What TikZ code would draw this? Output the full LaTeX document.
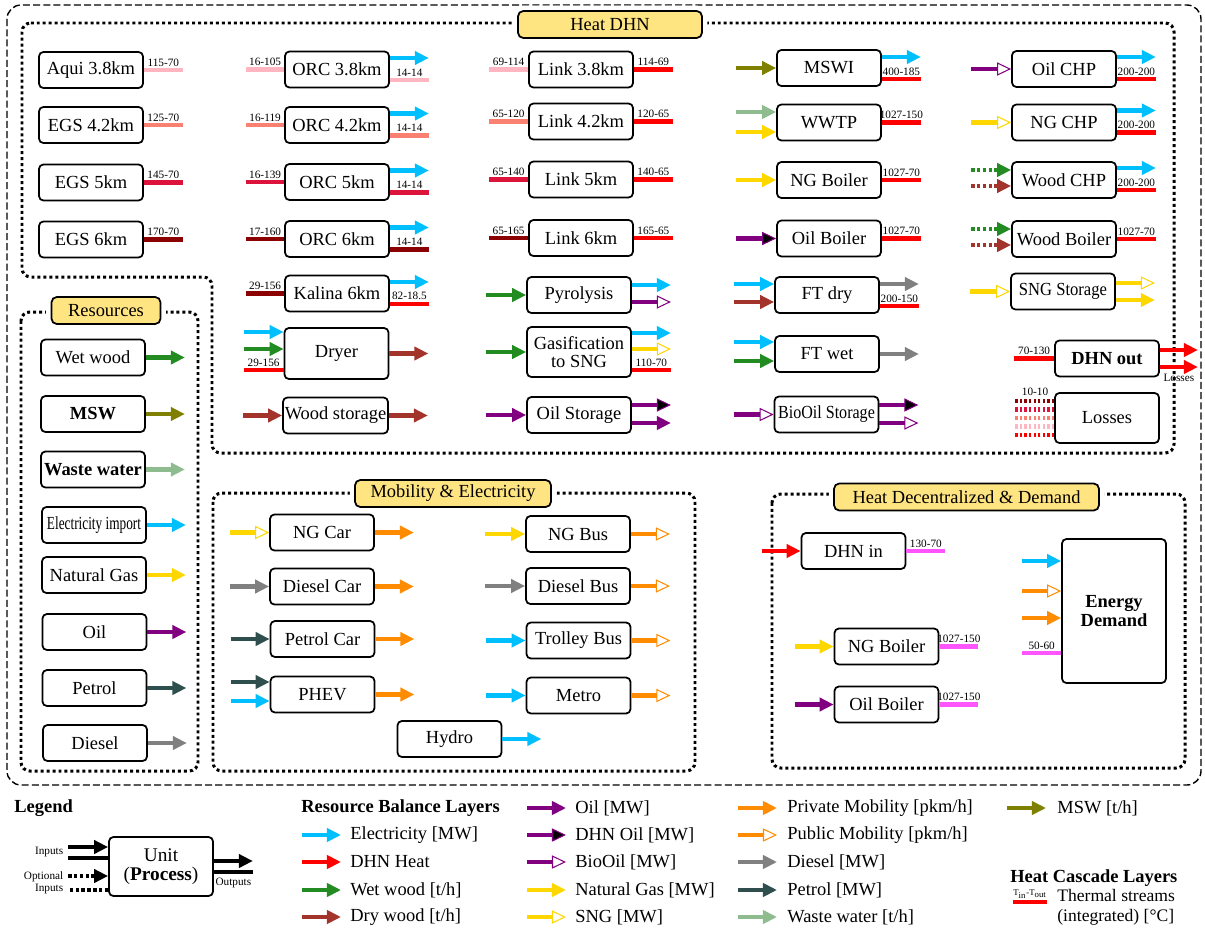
\documentclass[tikz,border=0pt]{standalone}
\usepackage{fontspec}
\setmainfont{Liberation Serif}
\usepackage{graphicx}
\usetikzlibrary{arrows.meta}

\definecolor{elec}{RGB}{0,191,255}
\definecolor{wetwood}{RGB}{34,139,34}
\definecolor{drywood}{RGB}{163,52,44}
\definecolor{oil}{RGB}{128,0,128}
\definecolor{natgas}{RGB}{255,215,0}
\definecolor{mobil}{RGB}{255,140,0}
\definecolor{diesel}{RGB}{128,128,128}
\definecolor{petrol}{RGB}{47,79,79}
\definecolor{wastew}{RGB}{143,188,143}
\definecolor{msw}{RGB}{128,128,0}
\definecolor{geoA}{RGB}{255,182,193}
\definecolor{geoB}{RGB}{250,128,114}
\definecolor{geoC}{RGB}{220,20,60}
\definecolor{geoD}{RGB}{139,0,0}
\definecolor{decheat}{RGB}{255,85,255}
\definecolor{titlefill}{RGB}{255,228,130}

\begin{document}
\begin{tikzpicture}[x=0.02cm, y=-0.02cm,
	unit/.style={draw, fill=white, rounded corners=2.5pt, line width=1pt, minimum width=2.08cm, minimum height=0.72cm, inner sep=1pt, align=center, font=\fontsize{10.5}{10}\selectfont},
	unitbf/.style={unit, font=\fontsize{10.5}{10.5}\selectfont\bfseries},
	titlebox/.style={draw, fill=titlefill, rounded corners=3pt, line width=1pt, minimum height=0.54cm, inner sep=1pt, font=\fontsize{10.5}{11}\selectfont, preaction={draw=white, line width=6pt}},
	region/.style={line width=1.7pt, dash pattern=on 1.7pt off 1.7pt, rounded corners=5pt},
	resflow/.style={draw=#1, line width=2.8pt, -{Triangle[length=8pt,width=7.5pt]}},
	resopen/.style={draw=#1, line width=2.8pt, -{Triangle[open,length=8pt,width=7.5pt,line width=0.6pt]}},
	resdhn/.style={draw=oil, line width=2.8pt, -{Triangle[fill=black,length=8pt,width=7.5pt,line width=0.6pt]}},
	resopt/.style={resflow=#1, dash pattern=on 2pt off 1.3pt},
	hstream/.style={draw=#1, line width=2.8pt},
	hstreamopt/.style={draw=#1, line width=2.8pt, dash pattern=on 1.3pt off 1.3pt},
	tlab/.style={above, inner sep=0.8pt, font=\fontsize{6.4}{7}\selectfont},
	smalltext/.style={inner sep=0.8pt, font=\fontsize{6.4}{7}\selectfont},
	legtext/.style={anchor=west, inner sep=0pt, font=\fontsize{10.5}{11.5}\selectfont},
	legheader/.style={anchor=west, inner sep=0pt, font=\fontsize{10.5}{12}\selectfont\bfseries}]
	\useasboundingbox (0,0) rectangle (1205,934);
	\draw [line width=0.8pt, dash pattern=on 4pt off 1.8pt, rounded corners=8pt] (7,5) rectangle (1201,785);

	% Heat DHN
	\draw [region] (22,23) -- (1174,23) -- (1174,453) -- (212,453) -- (212,277) -- (22,277) -- cycle;
	\node [titlebox, minimum width=3.68cm] (tdhn) at (610,24.5) {Heat DHN};

	\node [unit] (aqui) at (91,70) {Aqui 3.8km};
	\node [unit] (egsA) at (91,125) {EGS 4.2km};
	\node [unit] (egsB) at (91,182.5) {EGS 5km};
	\node [unit] (egsC) at (91,239.5) {EGS 6km};
	\draw [hstream=geoA] (aqui.east) -- ++(39,0) node [tlab, midway] {115-70};
	\draw [hstream=geoB] (egsA.east) -- ++(39,0) node [tlab, midway] {125-70};
	\draw [hstream=geoC] (egsB.east) -- ++(39,0) node [tlab, midway] {145-70};
	\draw [hstream=geoD] (egsC.east) -- ++(39,0) node [tlab, midway] {170-70};

	\node [unit] (orcA) at (337,69.5) {ORC 3.8km};
	\node [unit] (orcB) at (337,125) {ORC 4.2km};
	\node [unit] (orcC) at (337,182) {ORC 5km};
	\node [unit] (orcD) at (337,239) {ORC 6km};
	\node [unit] (kalina) at (337,293.5) {Kalina 6km};
	\draw [hstream=geoA] (orcA.west) -- ++(-38,0) node [tlab, midway] {16-105};
	\draw [resflow=elec] ([shift={(0,-11.5)}]orcA.east) -- ++(39,0);
	\draw [hstream=geoA] ([shift={(0,10.5)}]orcA.east) -- ++(39,0) node [tlab, midway] {14-14};
	\draw [hstream=geoB] (orcB.west) -- ++(-38,0) node [tlab, midway] {16-119};
	\draw [resflow=elec] ([shift={(0,-11.5)}]orcB.east) -- ++(39,0);
	\draw [hstream=geoB] ([shift={(0,10.5)}]orcB.east) -- ++(39,0) node [tlab, midway] {14-14};
	\draw [hstream=geoC] (orcC.west) -- ++(-38,0) node [tlab, midway] {16-139};
	\draw [resflow=elec] ([shift={(0,-11.5)}]orcC.east) -- ++(39,0);
	\draw [hstream=geoC] ([shift={(0,10.5)}]orcC.east) -- ++(39,0) node [tlab, midway] {14-14};
	\draw [hstream=geoD] (orcD.west) -- ++(-38,0) node [tlab, midway] {17-160};
	\draw [resflow=elec] ([shift={(0,-11.5)}]orcD.east) -- ++(39,0);
	\draw [hstream=geoD] ([shift={(0,10.5)}]orcD.east) -- ++(39,0) node [tlab, midway] {14-14};
	\draw [hstream=geoD] (kalina.west) -- ++(-38,0) node [tlab, midway] {29-156};
	\draw [resflow=elec] ([shift={(0,-11.5)}]kalina.east) -- ++(39,0);
	\draw [hstream=red] ([shift={(0,10.5)}]kalina.east) -- ++(39,0) node [tlab, midway] {82-18.5};

	\node [unit, minimum height=1.02cm] (dryer) at (336.5,353.5) {Dryer};
	\draw [resflow=elec] ([shift={(-40,-21.5)}]dryer.west) -- ++(40,0);
	\draw [resflow=wetwood] ([shift={(-40,-4.5)}]dryer.west) -- ++(40,0);
	\draw [hstream=red] ([shift={(0,16.5)}]dryer.west) -- ++(-40,0) node [tlab, midway] {29-156};
	\draw [resflow=drywood] (dryer.east) -- ++(39,0);
	\node [unit] (woodsto) at (335.5,415.5) {Wood storage};
	\draw [resflow=drywood] ([shift={(-39,0)}]woodsto.west) -- (woodsto.west);
	\draw [resflow=drywood] (woodsto.east) -- ++(39,0);

	\node [unit] (linkA) at (581,69.5) {Link 3.8km};
	\node [unit] (linkB) at (581,121.5) {Link 4.2km};
	\node [unit] (linkC) at (581,179.5) {Link 5km};
	\node [unit] (linkD) at (581,238) {Link 6km};
	\draw [hstream=geoA] (linkA.west) -- ++(-39,0) node [tlab, midway] {69-114};
	\draw [hstream=red] (linkA.east) -- ++(39,0) node [tlab, midway] {114-69};
	\draw [hstream=geoB] (linkB.west) -- ++(-39,0) node [tlab, midway] {65-120};
	\draw [hstream=red] (linkB.east) -- ++(39,0) node [tlab, midway] {120-65};
	\draw [hstream=geoC] (linkC.west) -- ++(-39,0) node [tlab, midway] {65-140};
	\draw [hstream=red] (linkC.east) -- ++(39,0) node [tlab, midway] {140-65};
	\draw [hstream=geoD] (linkD.west) -- ++(-39,0) node [tlab, midway] {65-165};
	\draw [hstream=red] (linkD.east) -- ++(39,0) node [tlab, midway] {165-65};

	\node [unit] (pyro) at (579,295) {Pyrolysis};
	\draw [resflow=wetwood] ([shift={(-40,0)}]pyro.west) -- (pyro.west);
	\draw [resflow=elec] ([shift={(0,-10)}]pyro.east) -- ++(39,0);
	\draw [resopen=oil] ([shift={(0,7)}]pyro.east) -- ++(39,0);
	\node [unit, minimum height=1cm] (gasif) at (579,352) {Gasification\\to SNG};
	\draw [resflow=wetwood] ([shift={(-40,0)}]gasif.west) -- (gasif.west);
	\draw [resflow=elec] ([shift={(0,-19)}]gasif.east) -- ++(39,0);
	\draw [resopen=natgas] ([shift={(0,-3)}]gasif.east) -- ++(39,0);
	\draw [hstream=red] ([shift={(0,18)}]gasif.east) -- ++(39,0) node [tlab, midway] {110-70};
	\node [unit] (oilsto) at (579,415) {Oil Storage};
	\draw [resflow=oil] ([shift={(-40,0)}]oilsto.west) -- (oilsto.west);
	\draw [resdhn] ([shift={(0,-10)}]oilsto.east) -- ++(39,0);
	\draw [resflow=oil] ([shift={(0,8)}]oilsto.east) -- ++(39,0);

	\node [unit] (mswi) at (829,68) {MSWI};
	\node [unit] (wwtp) at (829,122.5) {WWTP};
	\node [unit] (ngboilA) at (829,180) {NG Boiler};
	\node [unit] (oilboilA) at (829,238.5) {Oil Boiler};
	\draw [resflow=msw] ([shift={(-40,0)}]mswi.west) -- (mswi.west);
	\draw [resflow=elec] ([shift={(0,-11)}]mswi.east) -- ++(39,0);
	\draw [hstream=red] ([shift={(0,11)}]mswi.east) -- ++(39,0) node [tlab, midway] {400-185};
	\draw [resflow=wastew] ([shift={(-40,-10.5)}]wwtp.west) -- ++(40,0);
	\draw [resflow=natgas] ([shift={(-40,9.5)}]wwtp.west) -- ++(40,0);
	\draw [hstream=red] (wwtp.east) -- ++(39,0) node [tlab, midway] {1027-150};
	\draw [resflow=natgas] ([shift={(-40,0)}]ngboilA.west) -- (ngboilA.west);
	\draw [hstream=red] (ngboilA.east) -- ++(39,0) node [tlab, midway] {1027-70};
	\draw [resdhn] ([shift={(-40,0)}]oilboilA.west) -- (oilboilA.west);
	\draw [hstream=red] (oilboilA.east) -- ++(39,0) node [tlab, midway] {1027-70};

	\node [unit] (ftdry) at (827,295) {FT dry};
	\draw [resflow=elec] ([shift={(-40,-11)}]ftdry.west) -- ++(40,0);
	\draw [resflow=drywood] ([shift={(-40,7)}]ftdry.west) -- ++(40,0);
	\draw [resflow=diesel] ([shift={(0,-11)}]ftdry.east) -- ++(39,0);
	\draw [hstream=red] ([shift={(0,11)}]ftdry.east) -- ++(39,0) node [tlab, midway] {200-150};
	\node [unit] (ftwet) at (827,354) {FT wet};
	\draw [resflow=elec] ([shift={(-40,-12)}]ftwet.west) -- ++(40,0);
	\draw [resflow=wetwood] ([shift={(-40,7)}]ftwet.west) -- ++(40,0);
	\draw [resflow=diesel] (ftwet.east) -- ++(39,0);
	\node [unit] (biosto) at (826.5,414.5) {\scalebox{0.87}[1]{BioOil Storage}};
	\draw [resopen=oil] ([shift={(-40,0)}]biosto.west) -- (biosto.west);
	\draw [resdhn] ([shift={(0,-9.5)}]biosto.east) -- ++(39,0);
	\draw [resopen=oil] ([shift={(0,8.5)}]biosto.east) -- ++(39,0);

	\node [unit] (oilchp) at (1064,69) {Oil CHP};
	\node [unit] (ngchp) at (1064,122.5) {NG CHP};
	\node [unit] (woodchp) at (1064,180) {Wood CHP};
	\node [unit] (woodboil) at (1064,239) {Wood Boiler};
	\draw [resopen=oil] ([shift={(-40,0)}]oilchp.west) -- (oilchp.west);
	\draw [resflow=elec] ([shift={(0,-12)}]oilchp.east) -- ++(39,0);
	\draw [hstream=red] ([shift={(0,10)}]oilchp.east) -- ++(39,0) node [tlab, midway] {200-200};
	\draw [resopen=natgas] ([shift={(-40,0)}]ngchp.west) -- (ngchp.west);
	\draw [resflow=elec] ([shift={(0,-12)}]ngchp.east) -- ++(39,0);
	\draw [hstream=red] ([shift={(0,10)}]ngchp.east) -- ++(39,0) node [tlab, midway] {200-200};
	\draw [resopt=wetwood] ([shift={(-40,-10)}]woodchp.west) -- ++(40,0);
	\draw [resopt=drywood] ([shift={(-40,6)}]woodchp.west) -- ++(40,0);
	\draw [resflow=elec] ([shift={(0,-12)}]woodchp.east) -- ++(39,0);
	\draw [hstream=red] ([shift={(0,10)}]woodchp.east) -- ++(39,0) node [tlab, midway] {200-200};
	\draw [resopt=wetwood] ([shift={(-40,-10)}]woodboil.west) -- ++(40,0);
	\draw [resopt=drywood] ([shift={(-40,6)}]woodboil.west) -- ++(40,0);
	\draw [hstream=red] (woodboil.east) -- ++(39,0) node [tlab, midway] {1027-70};
	\node [unit] (sngsto) at (1063,291.5) {\scalebox{0.9}[1]{SNG Storage}};
	\draw [resopen=natgas] ([shift={(-40,0)}]sngsto.west) -- (sngsto.west);
	\draw [resopen=natgas] ([shift={(0,-8.5)}]sngsto.east) -- ++(39,0);
	\draw [resflow=natgas] ([shift={(0,8.5)}]sngsto.east) -- ++(39,0);

	\node [unitbf] (dhnout) at (1107,358.5) {DHN out};
	\draw [hstream=red] (dhnout.west) -- ++(-40,0) node [tlab, midway] {70-130};
	\draw [resflow=red] ([shift={(0,-8.5)}]dhnout.east) -- ++(38,0);
	\draw [resflow=red] ([shift={(0,8.5)}]dhnout.east) -- ++(38,0) node [smalltext, below=2pt, midway] {Losses};
	\node [unit, minimum height=1cm] (losses) at (1107,418) {Losses};
	\foreach \dy/\col in {-17/geoD, -8.5/geoC, 0/geoB, 8.5/geoA, 17/red}
		\draw [hstreamopt=\col] ([shift={(0,\dy)}]losses.west) -- ++(-40,0);
	\node [smalltext] (losslab) at (1035,392) {10-10};

	% Resources
	\draw [region] (21,312) rectangle (198,771);
	\node [titlebox, minimum width=2.18cm] (tres) at (106,310.5) {Resources};
	\node [unit] (wetres) at (93,357.5) {Wet wood};
	\node [unitbf] (mswres) at (93,414) {MSW};
	\node [unitbf] (wwres) at (93,469.5) {Waste water};
	\node [unit] (elimp) at (94,525) {\scalebox{0.72}[1]{Electricity import}};
	\node [unit] (ngres) at (94,575) {Natural Gas};
	\node [unit] (oilres) at (94.5,632) {Oil};
	\node [unit] (petres) at (94.5,688) {Petrol};
	\node [unit] (dieres) at (95,743) {Diesel};
	\draw [resflow=wetwood] (wetres.east) -- ++(39,0);
	\draw [resflow=msw] (mswres.east) -- ++(39,0);
	\draw [resflow=wastew] (wwres.east) -- ++(39,0);
	\draw [resflow=elec] (elimp.east) -- ++(39,0);
	\draw [resflow=natgas] (ngres.east) -- ++(39,0);
	\draw [resflow=oil] (oilres.east) -- ++(39,0);
	\draw [resflow=petrol] (petres.east) -- ++(39,0);
	\draw [resflow=diesel] (dieres.east) -- ++(39,0);

	% Mobility & Electricity
	\draw [region] (213,493) rectangle (695,771);
	\node [titlebox, minimum width=3.92cm] (tmob) at (453,493.5) {Mobility \& Electricity};
	\node [unit] (ngcar) at (322,532.5) {NG Car};
	\node [unit] (dcar) at (322,586.5) {Diesel Car};
	\node [unit] (pcar) at (322.5,639) {Petrol Car};
	\node [unit] (phev) at (322.5,694.5) {PHEV};
	\draw [resopen=natgas] ([shift={(-39,0)}]ngcar.west) -- (ngcar.west);
	\draw [resflow=diesel] ([shift={(-39,0)}]dcar.west) -- (dcar.west);
	\draw [resflow=petrol] ([shift={(-39,0)}]pcar.west) -- (pcar.west);
	\draw [resflow=petrol] ([shift={(-39,-12.5)}]phev.west) -- ++(39,0);
	\draw [resflow=elec] ([shift={(-39,6.5)}]phev.west) -- ++(39,0);
	\draw [resflow=mobil] (ngcar.east) -- ++(39,0);
	\draw [resflow=mobil] (dcar.east) -- ++(39,0);
	\draw [resflow=mobil] (pcar.east) -- ++(39,0);
	\draw [resflow=mobil] (phev.east) -- ++(39,0);
	\node [unit] (ngbus) at (578,534) {NG Bus};
	\node [unit] (dbus) at (578,586) {Diesel Bus};
	\node [unit] (tbus) at (578.5,640.5) {Trolley Bus};
	\node [unit] (metro) at (578.5,695.5) {Metro};
	\draw [resflow=natgas] ([shift={(-40,0)}]ngbus.west) -- (ngbus.west);
	\draw [resflow=diesel] ([shift={(-40,0)}]dbus.west) -- (dbus.west);
	\draw [resflow=elec] ([shift={(-40,0)}]tbus.west) -- (tbus.west);
	\draw [resflow=elec] ([shift={(-40,0)}]metro.west) -- (metro.west);
	\draw [resopen=mobil] (ngbus.east) -- ++(39,0);
	\draw [resopen=mobil] (dbus.east) -- ++(39,0);
	\draw [resopen=mobil] (tbus.east) -- ++(39,0);
	\draw [resopen=mobil] (metro.east) -- ++(39,0);
	\node [unit] (hydro) at (449.5,739) {Hydro};
	\draw [resflow=elec] (hydro.east) -- ++(39,0);

	% Heat Decentralized & Demand
	\draw [region] (772,494) rectangle (1185,768);
	\node [titlebox, minimum width=5.3cm] (tdec) at (966.5,497) {Heat Decentralized \& Demand};
	\node [unit] (dhnin) at (853.5,551) {DHN in};
	\draw [resflow=red] ([shift={(-39,0)}]dhnin.west) -- (dhnin.west);
	\draw [hstream=decheat] (dhnin.east) -- ++(39,0) node [tlab, midway] {130-70};
	\node [unit] (ngboilB) at (886.5,646.5) {NG Boiler};
	\draw [resflow=natgas] ([shift={(-39,0)}]ngboilB.west) -- (ngboilB.west);
	\draw [hstream=decheat] (ngboilB.east) -- ++(39,0) node [tlab, midway] {1027-150};
	\node [unit] (oilboilB) at (886.5,704.5) {Oil Boiler};
	\draw [resflow=oil] ([shift={(-39,0)}]oilboilB.west) -- (oilboilB.west);
	\draw [hstream=decheat] (oilboilB.east) -- ++(39,0) node [tlab, midway] {1027-150};
	\node [unitbf, minimum height=2.88cm] (demand) at (1114,611) {Energy\\Demand};
	\draw [resflow=elec] ([shift={(-39,-50)}]demand.west) -- ++(39,0);
	\draw [resopen=mobil] ([shift={(-39,-20)}]demand.west) -- ++(39,0);
	\draw [resflow=mobil] ([shift={(-39,7)}]demand.west) -- ++(39,0);
	\draw [hstream=decheat] ([shift={(0,42)}]demand.west) -- ++(-39,0) node [tlab, midway] {50-60};

	% Legend
	\node [legheader] (legend) at (14,808) {Legend};
	\node [unit, minimum height=1.18cm, font=\fontsize{11}{10.5}\selectfont] (unitleg) at (161,866.5) {Unit\\(\textbf{Process})};
	\draw [resflow=black] ([shift={(-40,-19.5)}]unitleg.west) -- ++(40,0);
	\draw [hstream=black] ([shift={(0,-8.5)}]unitleg.west) -- ++(-40,0);
	\draw [resopt=black] ([shift={(-40,9.5)}]unitleg.west) -- ++(40,0);
	\draw [hstreamopt=black, dash pattern=on 2pt off 1.3pt] ([shift={(0,23.5)}]unitleg.west) -- ++(-40,0);
	\draw [resflow=black] ([shift={(0,-5.5)}]unitleg.east) -- ++(39,0);
	\draw [hstream=black] ([shift={(0,5.5)}]unitleg.east) -- ++(39,0) node [smalltext, below=1.5pt, midway] {Outputs};
	\node [smalltext, anchor=east] (inlab) at (65,852) {Inputs};
	\node [smalltext, anchor=east, align=right] (optlab) at (65,883) {Optional\\Inputs};

	\node [legheader] (rbl) at (301,808) {Resource Balance Layers};
	\node [legtext] (lgelec) at (350,835) {Electricity [MW]};
	\node [legtext] (lgdhn) at (350,862) {DHN Heat};
	\node [legtext] (lgwet) at (350,890) {Wet wood [t/h]};
	\node [legtext] (lgdry) at (350,917) {Dry wood [t/h]};
	\draw [resflow=elec] ([shift={(-48,0)}]lgelec.west) -- ++(39,0);
	\draw [resflow=red] ([shift={(-48,0)}]lgdhn.west) -- ++(39,0);
	\draw [resflow=wetwood] ([shift={(-48,0)}]lgwet.west) -- ++(39,0);
	\draw [resflow=drywood] ([shift={(-48,0)}]lgdry.west) -- ++(39,0);

	\node [legtext] (lgoil) at (575,808) {Oil [MW]};
	\node [legtext] (lgdhnoil) at (575,835) {DHN Oil [MW]};
	\node [legtext] (lgbio) at (575,862) {BioOil [MW]};
	\node [legtext] (lgng) at (575,890) {Natural Gas [MW]};
	\node [legtext] (lgsng) at (575,917) {SNG [MW]};
	\draw [resflow=oil] ([shift={(-48,0)}]lgoil.west) -- ++(39,0);
	\draw [resdhn] ([shift={(-48,0)}]lgdhnoil.west) -- ++(39,0);
	\draw [resopen=oil] ([shift={(-48,0)}]lgbio.west) -- ++(39,0);
	\draw [resflow=natgas] ([shift={(-48,0)}]lgng.west) -- ++(39,0);
	\draw [resopen=natgas] ([shift={(-48,0)}]lgsng.west) -- ++(39,0);

	\node [legtext] (lgpriv) at (787,808) {Private Mobility [pkm/h]};
	\node [legtext] (lgpub) at (787,835) {Public Mobility [pkm/h]};
	\node [legtext] (lgdies) at (787,862) {Diesel [MW]};
	\node [legtext] (lgpet) at (787,890) {Petrol [MW]};
	\node [legtext] (lgww) at (787,917) {Waste water [t/h]};
	\draw [resflow=mobil] ([shift={(-49,0)}]lgpriv.west) -- ++(39,0);
	\draw [resopen=mobil] ([shift={(-49,0)}]lgpub.west) -- ++(39,0);
	\draw [resflow=diesel] ([shift={(-49,0)}]lgdies.west) -- ++(39,0);
	\draw [resflow=petrol] ([shift={(-49,0)}]lgpet.west) -- ++(39,0);
	\draw [resflow=wastew] ([shift={(-49,0)}]lgww.west) -- ++(39,0);

	\node [legtext] (lgmsw) at (1057,808) {MSW [t/h]};
	\draw [resflow=msw] ([shift={(-50,0)}]lgmsw.west) -- ++(39,0);

	\node [legheader] (hcl) at (1010,878) {Heat Cascade Layers};
	\node [legtext, align=left, font=\fontsize{10}{11.3}\selectfont] (lgstream) at (1057,907) {Thermal streams\\(integrated) [°C]};
	\draw [hstream=red] ([shift={(-10,-5)}]lgstream.west) -- ++(-34,0) node [tlab, midway, font=\fontsize{5}{6}\selectfont] {T\textsubscript{in}-T\textsubscript{out}};
\end{tikzpicture}
\end{document}
